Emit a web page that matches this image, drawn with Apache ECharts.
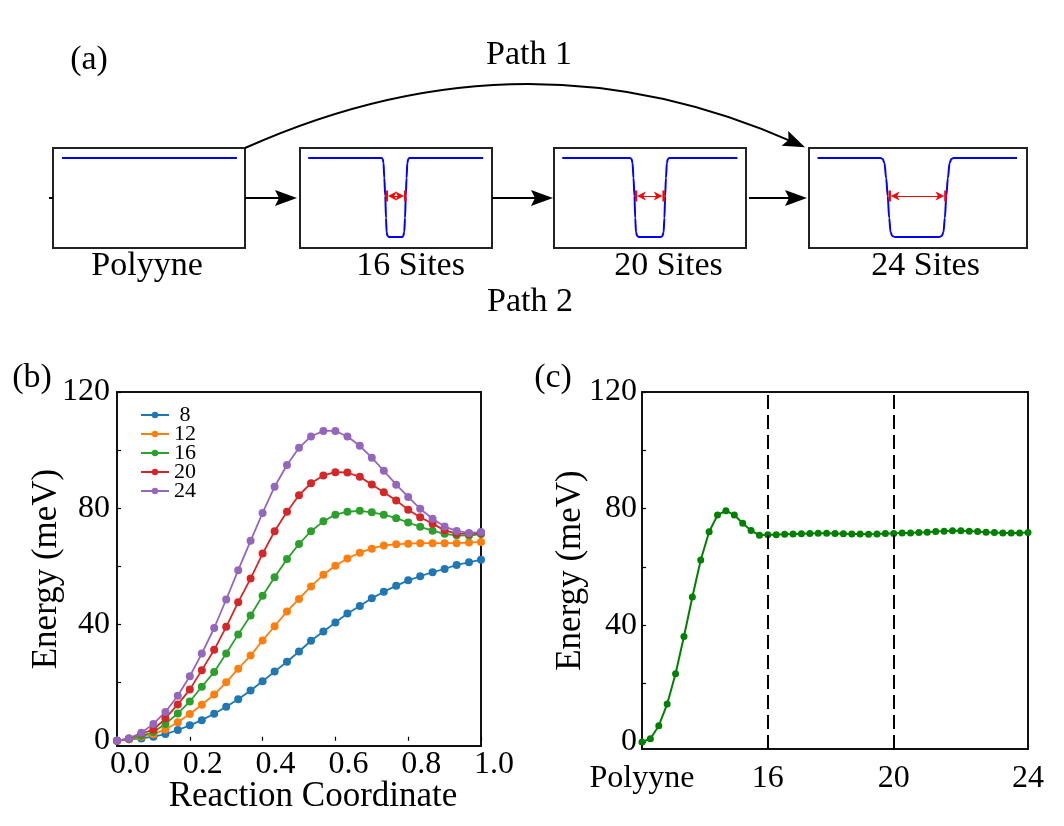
<!DOCTYPE html>
<html><head><meta charset="utf-8">
<script src="https://cdn.jsdelivr.net/npm/echarts@6/dist/echarts.min.js"></script>
<style>html,body{margin:0;padding:0;background:#fff}#c{width:1064px;height:826px}</style>
</head><body><div id="c"></div>
<script>
const FONT = 'Liberation Serif';

// ---------- Panel (a): schematic well profiles (x: % of box width, y: % of box height) ----------
const boxLabels = ['Polyyne', '16 Sites', '20 Sites', '24 Sites'];
const well0 = [[4.7,90],[95.8,90]];
const well1 = [[4.3,90],[42.5,90],[43.1,89],[43.5,85],[43.9,70],[44.4,52],[44.8,30],[45.1,16],[45.6,12],[46.4,11],
               [53.1,11],[53.8,12],[54.3,16],[54.7,30],[55.1,52],[55.5,70],[55.9,85],[56.4,89],[57.0,90],[95.4,90]];
const well2 = [[4.3,90],[39.6,90],[40.4,89],[40.9,85],[41.4,70],[41.9,52],[42.3,30],[42.7,16],[43.3,12],[44.2,11],
               [55.6,11],[56.5,12],[57.1,16],[57.5,30],[57.9,52],[58.3,70],[58.8,85],[59.3,89],[60.1,90],[95.5,90]];
const well3 = [[3.9,90],[32.8,90],[33.8,89],[34.6,85],[35.4,70],[36.1,52],[36.8,30],[37.4,16],[38.2,12],[39.4,11],
               [59.7,11],[60.9,12],[61.7,16],[62.3,30],[63.0,52],[63.7,70],[64.5,85],[65.3,89],[66.3,90],[95.4,90]];
const wells = [well0, well1, well2, well3];
const widthArrows = [null, [44.6, 55.4], [42.1, 57.7], [36.5, 63.1]];
const arrowLevel = 52;

// ---------- Panel (b) ----------
const reactionCoord = [0.000,0.033,0.067,0.100,0.133,0.167,0.200,0.233,0.267,0.300,0.333,0.367,0.400,0.433,0.467,
                       0.500,0.533,0.567,0.600,0.633,0.667,0.700,0.733,0.767,0.800,0.833,0.867,0.900,0.933,0.967,1.000];
const sizeNames = ['8','12','16','20','24'];
const e8  = [0.0,0.5,0.8,1.4,2.3,3.7,5.3,7.1,9.3,11.7,14.3,17.3,20.5,23.8,27.2,30.7,34.4,37.6,40.7,43.8,46.4,49.0,51.3,53.3,55.2,56.6,58.0,59.1,60.5,61.4,62.3];
const e12 = [0.0,0.5,1.4,2.2,3.9,6.4,9.2,12.4,15.9,20.1,24.8,29.3,34.5,39.4,44.5,48.8,53.1,57.1,60.2,62.7,64.7,66.1,67.2,67.6,67.8,68.0,68.0,68.0,68.0,68.2,68.4];
const e16 = [0.0,0.7,1.7,3.0,5.8,9.4,13.5,18.6,23.7,30.0,36.6,43.1,49.9,56.3,62.5,67.7,72.1,75.5,77.8,78.8,79.1,78.6,77.8,76.6,75.1,73.6,72.3,71.2,70.7,70.6,71.1];
const e20 = [0.0,0.8,2.5,3.8,7.7,12.5,17.6,24.3,31.3,39.2,47.7,55.8,64.4,72.1,78.8,84.5,88.6,91.3,92.4,92.3,90.8,88.2,85.5,82.7,79.5,76.9,74.7,72.4,71.3,71.2,71.5];
const e24 = [0.0,0.8,2.8,5.8,9.9,15.5,22.2,30.0,38.8,48.6,58.7,68.8,78.4,87.4,94.9,100.8,104.7,106.6,106.6,104.7,101.5,97.4,92.9,88.1,83.9,79.8,76.4,73.7,72.2,71.5,71.8];
const sizeEnergies = [e8, e12, e16, e20, e24];
const sizeColors = ['#1f77b4','#ff7f0e','#2ca02c','#d62728','#9467bd'];
const energyTicks = [0, 20, 40, 60, 80, 100, 120];
const energyLabels = [0, 40, 80, 120];

// ---------- Panel (c) ----------
const imageIndex = ['0','1','2','3','4','5','6','7','8','9','10','11','12','13','14','15','16','17','18','19','20','21','22','23',
                    '24','25','26','27','28','29','30','31','32','33','34','35','36','37','38','39','40','41','42','43','44','45','46'];
const pathEnergy = [0.0,1.1,5.6,13.0,23.4,36.2,49.7,62.4,72.1,77.8,79.3,77.8,75.0,72.5,70.9,71.1,71.1,71.2,71.3,71.4,71.5,71.6,71.6,71.5,
                    71.4,71.3,71.3,71.2,71.3,71.5,71.5,71.7,71.7,71.8,71.9,72.2,72.3,72.4,72.4,72.3,72.2,71.9,71.8,71.7,71.7,71.7,71.8];
const cTickPos = [0, 15, 30, 46];
const cTickText = ['Polyyne', '16', '20', '24'];
const cDashed = [15, 30];

// ---------- layout ----------
const boxGrids = [
  {left: 53, top: 148, width: 192, height: 100},
  {left: 300, top: 148, width: 192, height: 100},
  {left: 554, top: 148, width: 192, height: 100},
  {left: 809, top: 148, width: 218, height: 100}
];
const grids = boxGrids.map(g => Object.assign({show: true, borderColor: '#222', borderWidth: 2, backgroundColor: 'transparent'}, g));
grids.push({left: 117, top: 392, width: 364, height: 354, show: true, borderColor: '#111', borderWidth: 2});
grids.push({left: 642, top: 392, width: 386, height: 357, show: true, borderColor: '#111', borderWidth: 2});

const xAxes = [], yAxes = [], series = [];
const redSym = 'path://M0,0L12,0L12,3L0,3ZM6,3L11,14L6,11L1,14Z';
const redSymSize = 11;
wells.forEach((w, i) => {
  xAxes.push({gridIndex: i, type: 'value', min: 0, max: 100, show: false});
  yAxes.push({gridIndex: i, type: 'value', min: 0, max: 100, show: false});
  const s = {type: 'line', xAxisIndex: i, yAxisIndex: i, data: w, showSymbol: false, silent: true,
             smooth: 0.35, smoothMonotone: 'x',
             lineStyle: {color: '#0000ff', width: 2}, itemStyle: {color: '#0000ff'}};
  if (widthArrows[i]) {
    const inset = (redSymSize / 2) / boxGrids[i].width * 100;
    s.markLine = {silent: true, symbol: [redSym, redSym], symbolSize: [redSymSize, redSymSize],
      label: {show: false},
      lineStyle: {color: '#ff0000', width: 1, type: 'solid'}, emphasis: {disabled: true},
      data: [[{coord: [widthArrows[i][0] + inset, arrowLevel]}, {coord: [widthArrows[i][1] - inset, arrowLevel]}]]};
  }
  series.push(s);
});

const tickFont = {fontFamily: FONT, fontSize: 32, color: '#000'};
// panel b axes (index 4)
xAxes.push({gridIndex: 4, type: 'value', min: 0, max: 1, interval: 0.2,
  axisLine: {show: false}, splitLine: {show: false},
  axisTick: {show: true, inside: true, length: 4, lineStyle: {color: '#000', width: 1.2}},
  axisLabel: Object.assign({margin: 3, padding: [0,0,0,26], formatter: v => v.toFixed(1)}, tickFont),
  name: 'Reaction Coordinate', nameLocation: 'middle', nameGap: 33, nameMoveOverlap: false,
  nameTextStyle: {fontFamily: FONT, fontSize: 35, color: '#000', padding: [0,0,0,28]}});
yAxes.push({gridIndex: 4, type: 'value', min: -1.8, max: 120,
  axisLine: {show: false}, splitLine: {show: false},
  axisTick: {show: true, inside: true, length: 4, customValues: energyTicks, lineStyle: {color: '#000', width: 1.2}},
  axisLabel: Object.assign({margin: 7, customValues: energyLabels}, tickFont),
  name: 'Energy (meV)', nameLocation: 'middle', nameGap: 53, nameMoveOverlap: false,
  nameTextStyle: {fontFamily: FONT, fontSize: 35, color: '#000'}});
// panel c axes (index 5)
xAxes.push({gridIndex: 5, type: 'category', data: imageIndex, boundaryGap: false,
  axisLine: {show: false}, splitLine: {show: false}, axisTick: {show: false},
  axisLabel: Object.assign({margin: 14, interval: (idx) => cTickPos.includes(idx),
    formatter: (v, idx) => { const k = cTickPos.indexOf(idx); return k >= 0 ? cTickText[k] : ''; }}, tickFont)});
yAxes.push({gridIndex: 5, type: 'value', min: -2.4, max: 120,
  axisLine: {show: false}, splitLine: {show: false},
  axisTick: {show: true, inside: true, length: 4, customValues: energyTicks, lineStyle: {color: '#000', width: 1.2}},
  axisLabel: Object.assign({margin: 5, customValues: energyLabels}, tickFont),
  name: 'Energy (meV)', nameLocation: 'middle', nameGap: 54, nameMoveOverlap: false,
  nameTextStyle: {fontFamily: FONT, fontSize: 35, color: '#000'}});

sizeNames.forEach((n, k) => {
  series.push({type: 'line', name: n, xAxisIndex: 4, yAxisIndex: 4,
    data: reactionCoord.map((x, i) => [x, sizeEnergies[k][i]]),
    symbol: 'circle', symbolSize: 8, showAllSymbol: true,
    lineStyle: {color: sizeColors[k], width: 1.8}, itemStyle: {color: sizeColors[k]}});
});
series.push({type: 'line', name: 'path', xAxisIndex: 5, yAxisIndex: 5, data: pathEnergy,
  symbol: 'circle', symbolSize: 7, showAllSymbol: true,
  lineStyle: {color: '#008000', width: 2}, itemStyle: {color: '#008000'},
  markLine: {silent: true, symbol: 'none', label: {show: false}, emphasis: {disabled: true},
    lineStyle: {color: '#000', width: 2, type: [14, 6]},
    data: cDashed.map(v => ({xAxis: v}))}});

// ---------- annotations for panel (a) ----------
function head(tx, ty, ux, uy) {
  const L = 22, W = 8, N = 18;
  const bx = tx - L*ux, by = ty - L*uy, nx = -uy, ny = ux;
  return {type: 'polygon', silent: true, shape: {points: [[tx, ty], [bx + W*nx, by + W*ny], [tx - N*ux, ty - N*uy], [bx - W*nx, by - W*ny]]},
          style: {fill: '#000'}};
}
function straightArrow(x1, x2, y) {
  return [{type: 'line', silent: true, shape: {x1: x1, y1: y, x2: x2 - 15, y2: y}, style: {stroke: '#000', lineWidth: 2}},
          head(x2, y, 1, 0)];
}
const g = [];
const txt = (t, x, y, size) => ({type: 'text', silent: true, x: x, y: y,
  style: {text: t, fontFamily: FONT, fontSize: size || 34, fill: '#000', align: 'center', verticalAlign: 'middle'}});
g.push(txt('(a)', 89, 60));
g.push(txt('Path 1', 529, 55));
g.push(txt('Path 2', 530, 302));
const labelX = [147, 410.6, 668.5, 925.6];
boxLabels.forEach((t, i) => g.push(txt(t, labelX[i], 266.5)));
g.push(txt('(b)', 32, 378));
g.push(txt('(c)', 553, 378));
g.push({type: 'line', silent: true, shape: {x1: 49, y1: 198, x2: 53, y2: 198}, style: {stroke: '#000', lineWidth: 2}});
g.push(...straightArrow(245, 297, 198));
g.push(...straightArrow(492, 553, 198));
g.push(...straightArrow(749, 807, 198));
const P0 = [245, 148], P1 = [525, 22.5], P2 = [805, 147.3];
g.push({type: 'bezierCurve', silent: true, shape: {x1: P0[0], y1: P0[1], cpx1: P1[0], cpy1: P1[1], x2: P2[0] - 10, y2: P2[1] - 4.5},
        style: {stroke: '#000', lineWidth: 2, fill: 'none'}});
(function () {
  const dx = P2[0] - P1[0], dy = P2[1] - P1[1], l = Math.hypot(dx, dy);
  g.push(head(P2[0], P2[1], dx / l, dy / l));
})();

const chart = echarts.init(document.getElementById('c'), null, {renderer: 'canvas'});
chart.setOption({
  animation: false,
  backgroundColor: '#fff',
  grid: grids, xAxis: xAxes, yAxis: yAxes, series: series,
  legend: {data: sizeNames, orient: 'vertical', left: 135, top: 399, itemWidth: 28, itemHeight: 8, itemGap: -3,
    formatter: n => n.length === 1 ? ' ' + n : n, selectedMode: false,
    textStyle: {fontFamily: FONT, fontSize: 22, color: '#000'}},
  graphic: g
});
</script></body></html>
